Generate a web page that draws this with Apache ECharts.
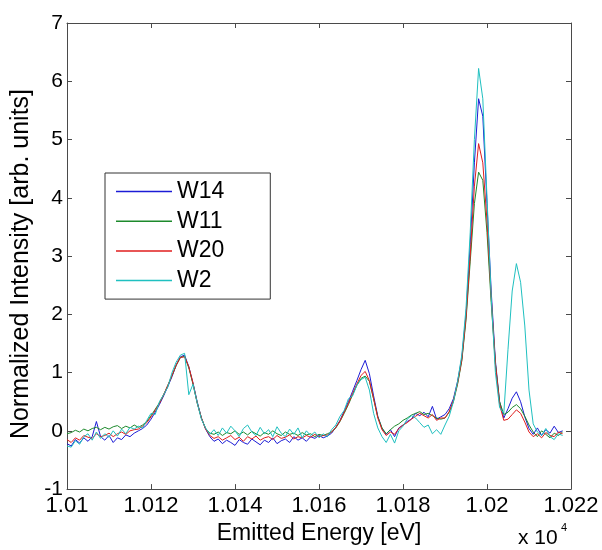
<!DOCTYPE html>
<html>
<head>
<meta charset="utf-8">
<script src="https://cdn.jsdelivr.net/npm/echarts@6/dist/echarts.min.js"></script>
<style>
  html, body { margin: 0; padding: 0; background: #fff; }
  #chart { width: 602px; height: 550px; }
</style>
</head>
<body>
<div id="chart"></div>
<script>
// emitted energy in eV, one point per eV
const energy = [
  10100, 10101, 10102, 10103, 10104, 10105, 10106, 10107, 10108, 10109,
  10110, 10111, 10112, 10113, 10114, 10115, 10116, 10117, 10118, 10119,
  10120, 10121, 10122, 10123, 10124, 10125, 10126, 10127, 10128, 10129,
  10130, 10131, 10132, 10133, 10134, 10135, 10136, 10137, 10138, 10139,
  10140, 10141, 10142, 10143, 10144, 10145, 10146, 10147, 10148, 10149,
  10150, 10151, 10152, 10153, 10154, 10155, 10156, 10157, 10158, 10159,
  10160, 10161, 10162, 10163, 10164, 10165, 10166, 10167, 10168, 10169,
  10170, 10171, 10172, 10173, 10174, 10175, 10176, 10177, 10178, 10179,
  10180, 10181, 10182, 10183, 10184, 10185, 10186, 10187, 10188, 10189,
  10190, 10191, 10192, 10193, 10194, 10195, 10196, 10197, 10198, 10199,
  10200, 10201, 10202, 10203, 10204, 10205, 10206, 10207, 10208, 10209,
  10210, 10211, 10212, 10213, 10214, 10215, 10216, 10217, 10218
];

const seriesNames = ["W14", "W11", "W20", "W2"];

const w14 = [
  -0.22, -0.26, -0.15, -0.21, -0.12, -0.18, -0.1, 0.16, -0.1, -0.16, -0.08, -0.2, -0.12, -0.15, -0.07, -0.1, -0.04,
  0.0, 0.04, 0.1, 0.2, 0.32, 0.45, 0.6, 0.76, 0.93, 1.13, 1.27, 1.3, 1.1, 0.82, 0.5, 0.22, 0.03, -0.1,
  -0.18, -0.14, -0.22, -0.16, -0.2, -0.25, -0.15, -0.2, -0.23, -0.14, -0.19, -0.24, -0.16, -0.2, -0.12, -0.22, -0.17, -0.14, -0.2, -0.1, -0.16, -0.12, -0.18, -0.1, -0.13, -0.08, -0.12, -0.09,
  -0.04, 0.06, 0.18, 0.34, 0.5, 0.68, 0.86, 1.05, 1.21, 0.98, 0.6, 0.25, 0.04, -0.06, 0.02, -0.1, 0.05, 0.1, 0.16, 0.2, 0.3, 0.26, 0.32, 0.24, 0.42, 0.2, 0.24,
  0.28, 0.38, 0.55, 0.85, 1.25, 2.0, 3.2, 4.6, 5.7, 5.4, 3.9, 2.4, 1.2, 0.5, 0.22, 0.38, 0.56, 0.67, 0.5, 0.24, 0.04,
  -0.06, 0.05, -0.08, 0.02, -0.04, 0.08, -0.03, 0.0
];

const w11 = [
  -0.05, -0.03, 0.01, -0.02, 0.03, 0.0, 0.04, 0.06, 0.02, 0.06, 0.03, 0.07, 0.09, 0.04, 0.08, 0.05, 0.1,
  0.06, 0.1, 0.16, 0.26, 0.37, 0.48, 0.62, 0.78, 0.95, 1.12, 1.26, 1.28, 1.08, 0.8, 0.48, 0.22, 0.04, -0.04,
  -0.06, -0.02, -0.08, -0.03, -0.05, 0.0, -0.06, -0.02, -0.07, -0.01, -0.05, -0.09, -0.03, -0.06, 0.0, -0.05, -0.08, -0.02, -0.06, -0.04, -0.08, -0.03, -0.07, -0.05, -0.1, -0.06, -0.08, -0.05,
  -0.02, 0.05, 0.16, 0.3, 0.45, 0.62, 0.78, 0.9, 0.94, 0.85, 0.55, 0.24, 0.05, -0.05, 0.02, 0.08, 0.12, 0.18, 0.22, 0.27, 0.3, 0.33, 0.28, 0.3, 0.26, 0.22, 0.2,
  0.22, 0.32, 0.5, 0.8, 1.2, 1.9, 2.9, 3.9, 4.44, 4.3, 3.4, 2.2, 1.15, 0.5, 0.28, 0.32, 0.4, 0.45, 0.38, 0.25, 0.1,
  -0.02, -0.1, 0.0, -0.06, -0.12, -0.04, -0.08, -0.02
];

const w20 = [
  -0.15, -0.2, -0.12, -0.16, -0.08, -0.11, -0.13, -0.05, -0.1, -0.08, -0.04, -0.1, -0.05, -0.02, -0.06, 0.0, 0.02,
  0.03, 0.08, 0.14, 0.24, 0.35, 0.47, 0.62, 0.78, 0.95, 1.13, 1.26, 1.27, 1.1, 0.82, 0.48, 0.22, 0.03, -0.08,
  -0.13, -0.1, -0.16, -0.12, -0.08, -0.15, -0.11, -0.18, -0.1, -0.14, -0.09, -0.16, -0.12, -0.1, -0.15, -0.08, -0.13, -0.11, -0.07, -0.14, -0.1, -0.12, -0.08, -0.11, -0.06, -0.1, -0.08, -0.07,
  -0.02, 0.06, 0.17, 0.32, 0.47, 0.64, 0.8, 0.95, 1.02, 0.86, 0.55, 0.22, 0.02, -0.08, -0.02, -0.06, 0.04, 0.1, 0.14, 0.2, 0.25, 0.3, 0.26, 0.22, 0.28, 0.18, 0.22,
  0.22, 0.33, 0.52, 0.82, 1.22, 1.95, 3.0, 4.2, 4.93, 4.6, 3.6, 2.3, 1.15, 0.45, 0.18, 0.2, 0.28, 0.36, 0.3, 0.15, -0.02,
  -0.1, -0.05, -0.12, -0.03, -0.08, -0.1, -0.02, -0.05
];

const w2 = [
  -0.26, -0.28, -0.17, -0.23, -0.1, -0.05, -0.16, -0.02, -0.13, -0.05, -0.11, 0.0, -0.09, 0.03, -0.05, 0.06, 0.03,
  0.08, 0.05, 0.18, 0.3, 0.28, 0.5, 0.62, 0.75, 1.0, 1.18, 1.3, 1.33, 0.62, 0.8, 0.48, 0.2, 0.05, -0.06,
  0.02, -0.08, 0.05, -0.04, 0.08, 0.0, -0.1, 0.04, 0.1, -0.02, -0.08, 0.06, -0.05, 0.02, -0.1, 0.07, -0.04, -0.1, 0.03, -0.06, 0.05, -0.12, 0.0, -0.08, -0.02, -0.12, -0.05, -0.1,
  0.02, 0.1, 0.25, 0.35, 0.55, 0.6, 0.78, 0.88, 0.92, 0.7, 0.3, 0.05, -0.1, -0.2, -0.06, -0.21, 0.0, 0.08, 0.2, 0.26, 0.22, 0.14, 0.06, 0.1, -0.05, 0.02, -0.06,
  0.1, 0.25, 0.5, 0.85, 1.3, 2.1, 3.4, 5.0, 6.22, 5.7, 4.0, 2.3, 1.0, 0.4, 0.3, 1.4, 2.4, 2.87, 2.55, 1.8, 0.7,
  0.12, -0.02, -0.08, 0.04, -0.1, -0.15, -0.05, -0.08
];

const xTickLabels = ["1.01", "1.012", "1.014", "1.016", "1.018", "1.02", "1.022"];
const yTickLabels = ["-1", "0", "1", "2", "3", "4", "5", "6", "7"];

const colors = ["#1c1cd6", "#1d8a2c", "#e01e1e", "#1fc0c0"];
const font = "Liberation Sans, Arial, sans-serif";
const axisColor = "#4a4a4a";

const chart = echarts.init(document.getElementById("chart"), null, { renderer: "canvas" });

// all four sides of the box get inward ticks, like the matlab figure
const boxAxis = (extra) => Object.assign({
  type: "value",
  splitLine: { show: false },
  axisLine: { show: true, onZero: false, lineStyle: { color: axisColor, width: 1 } },
  axisTick: { show: true, inside: true, length: 5, lineStyle: { color: axisColor } },
}, extra);

const option = {
  animation: false,
  backgroundColor: "#fff",
  color: colors,
  grid: { left: 67, right: 31, top: 23, bottom: 59 },
  xAxis: [
    boxAxis({
      min: 10100, max: 10220, interval: 20, position: "bottom",
      axisLabel: {
        color: "#000", fontSize: 22, fontFamily: font, margin: 6,
        formatter: (v) => xTickLabels[Math.round((v - 10100) / 20)],
      },
      name: "Emitted Energy [eV]", nameLocation: "middle", nameGap: 28,
      nameTextStyle: { color: "#000", fontSize: 23, fontFamily: font },
    }),
    boxAxis({
      min: 10100, max: 10220, interval: 20, position: "top",
      axisLabel: { show: false },
    }),
  ],
  yAxis: [
    boxAxis({
      min: -1, max: 7, interval: 1, position: "left",
      axisLabel: {
        color: "#000", fontSize: 21, fontFamily: font, margin: 4,
        formatter: (v) => yTickLabels[Math.round(v + 1)],
      },
      name: "Normalized Intensity [arb. units]", nameLocation: "middle", nameGap: 28,
      nameTextStyle: { color: "#000", fontSize: 25, fontFamily: font, padding: [0, 16, 0, 0] },
    }),
    boxAxis({
      min: -1, max: 7, interval: 1, position: "right",
      axisLabel: { show: false },
    }),
  ],
  legend: {
    orient: "vertical",
    left: 105, top: 173,
    padding: [7, 46, 7, 11],
    icon: "rect",
    itemWidth: 56, itemHeight: 1.5, itemGap: 6.7,
    borderColor: "#333", borderWidth: 1,
    backgroundColor: "#fff",
    textStyle: { color: "#000", fontSize: 23, fontFamily: font, lineHeight: 23 },
    data: seriesNames,
  },
  graphic: [
    { type: "text", left: 518, top: 528, style: { text: "x 10", fill: "#000", font: "21px " + font } },
    { type: "text", left: 561, top: 522, style: { text: "4", fill: "#000", font: "11px " + font } },
  ],
  series: [w14, w11, w20, w2].map((vals, k) => ({
    name: seriesNames[k],
    type: "line",
    xAxisIndex: 0, yAxisIndex: 0,
    symbol: "none",
    lineStyle: { width: 1, color: colors[k] },
    itemStyle: { color: colors[k] },
    data: energy.map((e, i) => [e, vals[i]]),
  })),
};

chart.setOption(option);
</script>
</body>
</html>
